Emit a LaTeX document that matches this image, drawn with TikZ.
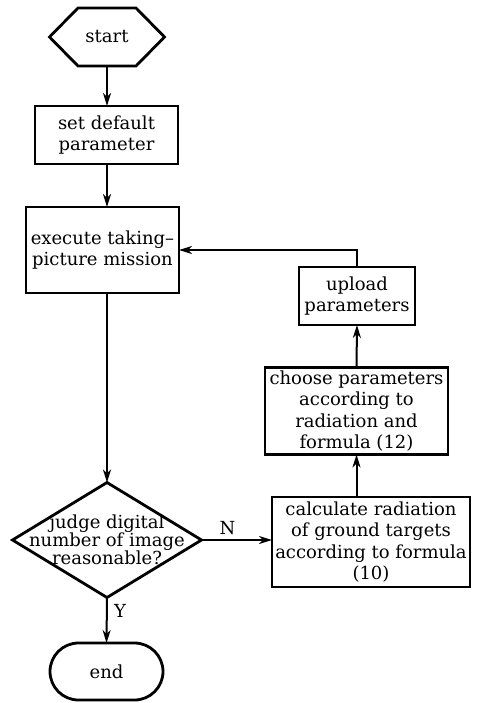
\documentclass[tikz,border=0pt]{standalone}
\usepackage{fontspec}
\setmainfont{DejaVu Serif}
\usetikzlibrary{arrows.meta,shapes.misc,calc}
\begin{document}
\begin{tikzpicture}[x=1pt,y=-1pt,
  font=\fontsize{18}{21.5}\selectfont,
  box/.style={draw,line width=2.8pt,align=center,inner sep=1pt,outer sep=0pt},
  helper/.style={inner sep=0pt,outer sep=0pt,align=center},
  conn/.style={line width=2pt,-{Stealth[length=13pt,width=8pt,inset=4pt]}},
  lbl/.style={font=\fontsize{18}{20}\selectfont}]
\useasboundingbox (0,0) rectangle (480,703);
% start hexagon
\node[helper,minimum width=115pt,minimum height=58pt] (start) at (107,37) {start};
\draw[line width=2.8pt,line join=miter] (start.west) -- ([xshift=28.5pt]start.north west) -- ([xshift=-28.5pt]start.north east) -- (start.east) -- ([xshift=-28.5pt]start.south east) -- ([xshift=28.5pt]start.south west) -- cycle;
\node[box,minimum width=143pt,minimum height=58pt] (setp) at (106.5,135) {set default\\parameter};
\node[box,minimum width=153pt,minimum height=86pt] (exec) at (102.5,250) {execute taking–\\picture mission};
\node[box,minimum width=116pt,minimum height=58pt] (upload) at (357,296) {upload\\parameters};
\node[box,minimum width=183pt,minimum height=87pt] (choose) at (356.5,411) {choose parameters\\according to\\radiation and\\formula (12)};
\node[box,minimum width=198pt,minimum height=90pt] (calc) at (371,542) {calculate radiation\\of ground targets\\according to formula\\(10)};
% diamond
\node[helper,minimum width=189pt,minimum height=115pt,font=\fontsize{18}{18}\selectfont] (judge) at (107,540) {judge digital\\number of image\\reasonable?};
\draw[line width=2.8pt,line join=miter] (judge.west) -- (judge.north) -- (judge.east) -- (judge.south) -- cycle;
\node[draw,line width=2.8pt,rounded rectangle,minimum width=115pt,minimum height=57pt,inner sep=1pt,outer sep=0pt] (endn) at (106.5,671.5) {end};
% connectors
\draw[conn] (start.south -| judge.north) -- (judge.north |- setp.north);
\draw[conn] (setp.south -| judge.north) -- (judge.north |- exec.north);
\draw[conn] (judge.north |- exec.south) -- (judge.north);
\draw[conn] (judge.south) -- node[lbl,right=3pt,pos=0.3] {Y} (endn.north);
\draw[conn] (judge.east) -- node[lbl,above=1pt,pos=0.37] {N} (judge.east -| calc.west);
\draw[conn] (choose.south |- calc.north) -- (choose.south);
\draw[conn] (choose.north) -- (upload.south);
\draw[conn] (upload.north) |- (exec.east);
\end{tikzpicture}
\end{document}
